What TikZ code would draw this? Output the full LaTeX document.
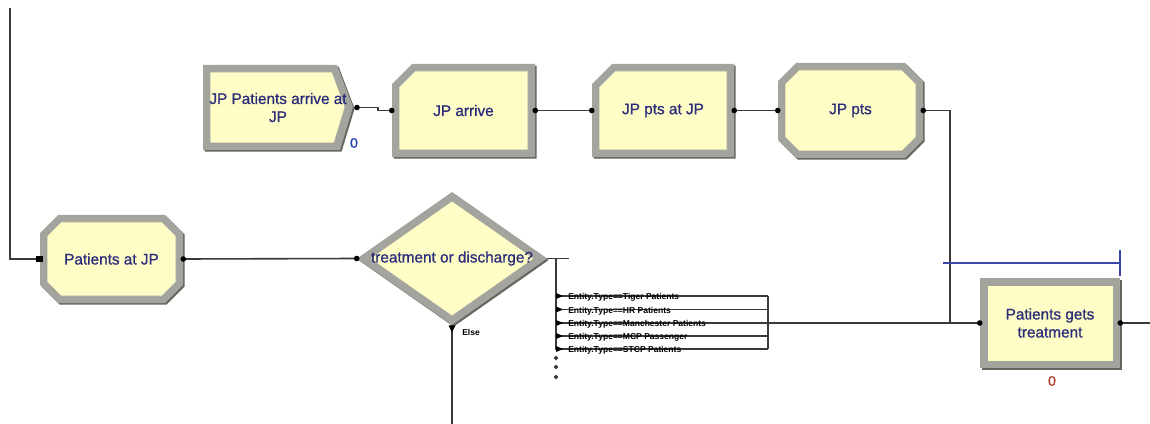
\documentclass[tikz,border=0pt]{standalone}
\usepackage{fontspec}
\setmainfont{Liberation Sans}
\newfontfamily\blockfont[FakeBold=0.9]{Liberation Sans}
\usetikzlibrary{calc}

\definecolor{blockfill}{HTML}{FFFDC6}
\definecolor{bevlight}{HTML}{A4A49E}
\definecolor{bevdark}{HTML}{66665F}
\definecolor{labelblue}{HTML}{2A2D7A}
\definecolor{wire}{HTML}{3A3A3A}
\definecolor{barblue}{HTML}{3A46A8}
\definecolor{countblue}{HTML}{2446B0}
\definecolor{countred}{HTML}{B0422C}

\tikzset{
  blocktext/.style={inner sep=0pt, align=center, text=labelblue,
    font=\blockfont\fontsize{11.5}{13.5}\selectfont},
  wire/.style={draw=wire, line width=1.2pt},
  port/.style={fill=black, inner sep=0pt, minimum size=4.2pt, circle},
  branchtext/.style={anchor=west, inner sep=0pt, text=black,
    font=\bfseries\fontsize{6.4}{7}\selectfont},
  counter/.style={inner sep=0pt, font=\blockfont\fontsize{10.5}{12}\selectfont},
}

% octagonal block: name, x1, y1, x2, y2, cut, text
\newcommand\octblock[7]{%
  \pgfmathsetmacro\innercut{#6-4}%
  \foreach \sh/\col in {1.6/bevdark,0/bevlight}{%
    \fill[\col,shift={(\sh,\sh)}] (#2+#6,#3) -- (#4-#6,#3) -- (#4,#3+#6) -- (#4,#5-#6)
      -- (#4-#6,#5) -- (#2+#6,#5) -- (#2,#5-#6) -- (#2,#3+#6) -- cycle;}
  \fill[blockfill,draw=bevdark!60,line width=0.4pt]
    (#2+7+\innercut,#3+7) -- (#4-7-\innercut,#3+7) -- (#4-7,#3+7+\innercut)
    -- (#4-7,#5-7-\innercut) -- (#4-7-\innercut,#5-7) -- (#2+7+\innercut,#5-7)
    -- (#2+7,#5-7-\innercut) -- (#2+7,#3+7+\innercut) -- cycle;
  \node[blocktext,minimum width={(#4-#2)*0.75pt},minimum height={(#5-#3)*0.75pt}]
    (#1) at ({(#2+#4)/2},{(#3+#5)/2}) {#7};
}

% block with a chamfered top-left corner: name, x1, y1, x2, y2, cut, text
\newcommand\cutblock[7]{%
  \pgfmathsetmacro\innercut{#6-4}%
  \foreach \sh/\col in {1.6/bevdark,0/bevlight}{%
    \fill[\col,shift={(\sh,\sh)}] (#2,#3+#6) -- (#2+#6,#3) -- (#4,#3) -- (#4,#5)
      -- (#2,#5) -- cycle;}
  \fill[blockfill,draw=bevdark!60,line width=0.4pt]
    (#2+7,#3+7+\innercut) -- (#2+7+\innercut,#3+7) -- (#4-7,#3+7) -- (#4-7,#5-7)
    -- (#2+7,#5-7) -- cycle;
  \node[blocktext,minimum width={(#4-#2)*0.75pt},minimum height={(#5-#3)*0.75pt}]
    (#1) at ({(#2+#4)/2},{(#3+#5)/2}) {#7};
}

% plain rectangular block: name, x1, y1, x2, y2, text
\newcommand\rectblock[6]{%
  \foreach \sh/\col in {1.6/bevdark,0/bevlight}{%
    \fill[\col,shift={(\sh,\sh)}] (#2,#3) rectangle (#4,#5);}
  \fill[blockfill,draw=bevdark!60,line width=0.4pt] (#2+7,#3+7) rectangle (#4-7,#5-7);
  \node[blocktext,minimum width={(#4-#2)*0.75pt},minimum height={(#5-#3)*0.75pt}]
    (#1) at ({(#2+#4)/2},{(#3+#5)/2}) {#6};
}

\begin{document}
\begin{tikzpicture}[x=0.75pt,y=-0.75pt]
\useasboundingbox (0,0) rectangle (1150,424);
\fill[white] (0,0) rectangle (1150,424);

% ---------- top row ----------
% create module (pentagon pointing right)
\foreach \sh/\col in {1.6/bevdark,0/bevlight}{%
  \fill[\col,shift={(\sh,\sh)}] (203,65) -- (337,65) -- (353,107) -- (340,150)
    -- (203,150) -- cycle;}
\fill[blockfill,draw=bevdark!60,line width=0.4pt]
  (210,72) -- (332,72) -- (345,107) -- (334,143) -- (210,143) -- cycle;
\node[blocktext,minimum width={150*0.75pt},minimum height={85*0.75pt}]
  (arr) at (278,107.5) {JP Patients arrive at\\JP};
\node[counter,text=countblue] (arrcount) at (354,143) {0};

\cutblock{jpa}{392}{64}{535}{157}{20}{JP arrive}
\cutblock{jps}{592}{64}{734}{157}{20}{JP pts at JP}
\octblock{jpp}{778}{63}{923}{158}{18}{JP pts}

% ---------- lower row ----------
\octblock{pat}{40}{215}{183}{303}{18}{Patients at JP}

% decide module
\foreach \sh/\col in {1.6/bevdark,0/bevlight}{%
  \fill[\col,shift={(\sh,\sh)}] (452,192) -- (547,258.5) -- (452,325) -- (357,258.5) -- cycle;}
\fill[blockfill,draw=bevdark!60,line width=0.4pt]
  (452,201) -- (534,258.5) -- (452,316) -- (370,258.5) -- cycle;
\node[blocktext,minimum width={190*0.75pt},minimum height={133*0.75pt}]
  (dec) at (452,258.5) {treatment or discharge?};

\rectblock{ptr}{980}{278}{1120}{368}{Patients gets\\treatment}
\node[counter,text=countred] (ptrcount) at (1052,381) {0};

% ---------- connection points ----------
\coordinate (srcTop) at (10,8);
\coordinate (arrOut) at (357,107.5);
\coordinate (decBar) at ($(dec.east)+(22,0)$);
\coordinate (busTop) at (556,258.5);
\coordinate (busBot) at (556,350);
\coordinate (join) at (950,323);
\coordinate (outR) at (1150,323);
\coordinate (elseEnd) at (452,424);
\foreach \i/\y in {1/296,2/309.5,3/323,4/336,5/349}{%
  \coordinate (b\i) at (556,\y);
  \coordinate (m\i) at (768,\y);}

% ---------- connectors ----------
\draw[wire] (srcTop) |- (pat.west);
\draw[wire] (pat.east) -- (dec.west);
\draw[wire] (arrOut) -- ++(21,0) |- (jpa.west);
\draw[wire] (jpa.east) -- (jps.west);
\draw[wire] (jps.east) -- (jpp.west);
\draw[wire] (jpp.east) -| (join);
\draw[wire] (dec.east) -- (decBar);
\draw[wire] (busTop) -- (busBot);
\foreach \i in {1,...,5}{\draw[wire] (b\i) -- (m\i);}
\draw[wire] (m1) -- (m5);
\draw[wire] (m3) -- (ptr.west);
\draw[wire] (ptr.east) -- (outR);
\draw[wire] (dec.south) -- (elseEnd);

% branch arrowheads and conditions
\foreach \i in {1,...,5}{%
  \fill[black] ($(b\i)+(0,-3)$) -- ($(b\i)+(7,0)$) -- ($(b\i)+(0,3)$) -- cycle;}
\node[branchtext] (c1) at ($(b1)+(12,1.5)$) {Entity.Type==Tiger Patients};
\node[branchtext] (c2) at ($(b2)+(12,1.5)$) {Entity.Type==HR Patients};
\node[branchtext] (c3) at ($(b3)+(12,1.5)$) {Entity.Type==Manchester Patients};
\node[branchtext] (c4) at ($(b4)+(12,1.5)$) {Entity.Type==MCP Passenger};
\node[branchtext] (c5) at ($(b5)+(12,1.5)$) {Entity.Type==STCP Patients};
\foreach \y in {358,367,377}{\fill[wire] (556,\y) circle (0.9pt);}

% else exit
\fill[black] ($(dec.south)+(-3.5,0)$) -- ($(dec.south)+(3.5,0)$) -- ($(dec.south)+(0,7)$) -- cycle;
\node[branchtext] (elselbl) at (462,332) {Else};

% queue bar
\coordinate (qStart) at (943,263);
\coordinate (qEnd) at (1120,263);
\draw[barblue,line width=1.2pt] (qStart) -- (qEnd);
\draw[barblue,line width=1.2pt] ($(qEnd)+(0,-13)$) -- ($(qEnd)+(0,13)$);

% ports on the blocks
\node[port] at (arrOut) {};
\node[port,rectangle,minimum size=5pt] at (pat.west) {};
\foreach \p in {pat.east,dec.west,jpa.west,jpa.east,jps.west,jps.east,jpp.west,jpp.east,ptr.west,ptr.east}{%
  \node[port] at (\p) {};}
\end{tikzpicture}
\end{document}
